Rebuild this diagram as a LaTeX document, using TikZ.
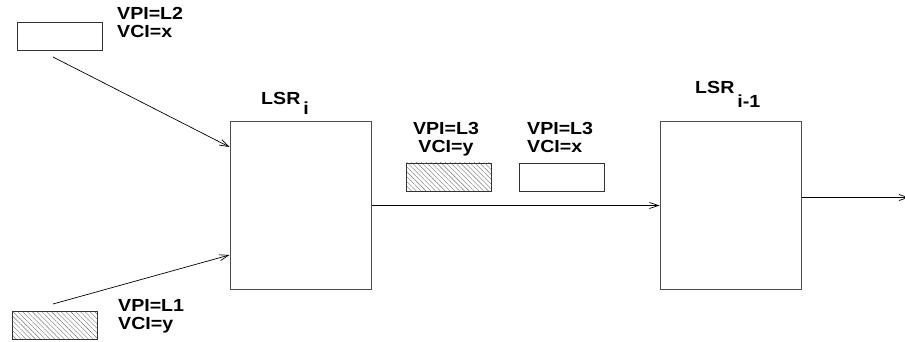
\documentclass[tikz,border=0pt]{standalone}
\usepackage{fontspec}
\setmainfont{Liberation Sans}[FakeStretch=1.12]
\usetikzlibrary{arrows.meta,patterns.meta,positioning}

\begin{document}
\begin{tikzpicture}[x=1pt, y=-1pt, >={Straight Barb[length=9pt,width=6pt]},
	every node/.style={font=\bfseries\fontsize{17.5}{18.5}\selectfont, inner sep=0pt},
	lsr/.style={draw=black!70, line width=1pt, minimum width=141pt, minimum height=168pt},
	cell/.style={draw=black!80, line width=0.9pt, minimum width=85pt, minimum height=28pt},
	hatched/.style={cell, pattern={Lines[angle=-45, distance=3.4pt, line width=0.4pt]}, pattern color=black!55},
	link/.style={->, line width=0.7pt}]
	\useasboundingbox (0,0) rectangle (905,342);
	% the two routers
	\node[lsr] (lsri) at (300.5,205.5) {};
	\node[lsr] (lsrp) at (730.5,205.5) {};
	\node[anchor=base west] (namei) at (261,105) {LSR\,\raisebox{-10pt}{i}};
	\node[anchor=base west] (namep) at (695,94) {LSR\,\raisebox{-14pt}{i-1}};
	% cells and their labels
	\node[cell] (cellA) at (60,36.5) {};
	\node[hatched] (cellB) at (54.5,325) {};
	\node[hatched] (cellC) at (448.5,177) {};
	\node[cell] (cellD) at (561.5,177) {};
	\node[anchor=north west, align=left] (tagA) at (117,7) {VPI=L2\\VCI=x};
	\node[anchor=north west, align=left] (tagB) at (118,299) {VPI=L1\\VCI=y};
	\node[anchor=north, align=center] (tagC) at (446,122) {VPI=L3\\VCI=y};
	\node[anchor=north west, align=left] (tagD) at (527,122) {VPI=L3\\VCI=x};
	% connectors
	\coordinate (srcA) at (53,57);
	\coordinate (srcB) at (53,304);
	\coordinate (sink) at (909,197.5);
	\draw[link] (srcA) -- ([yshift=-26pt]lsri.north west);
	\draw[link] (srcB) -- ([yshift=35pt]lsri.south west);
	\draw[link] (lsri.east) -- (lsrp.west);
	\draw[link] ([yshift=8pt]lsrp.east) -- (sink);
\end{tikzpicture}
\end{document}
